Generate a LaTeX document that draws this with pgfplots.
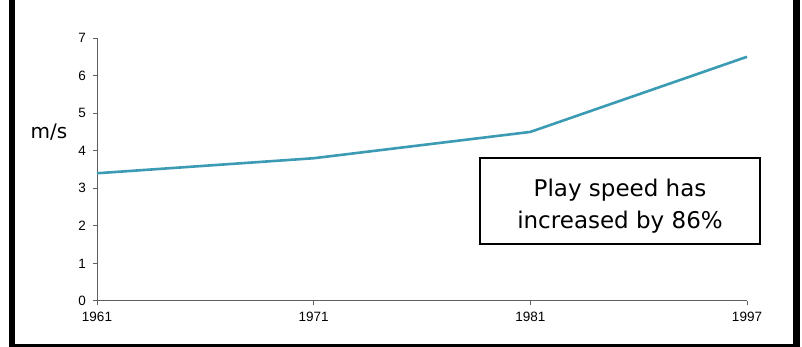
\documentclass[border=0pt]{standalone}
\usepackage{fontspec}
\setmainfont{Liberation Sans}
\newfontfamily\dejavu{DejaVu Sans}
\usepackage{pgfplots}
\pgfplotsset{compat=1.18}
\definecolor{lineteal}{RGB}{60,155,180}
\definecolor{axgray}{RGB}{95,95,95}
\begin{document}
\begin{tikzpicture}[x=1pt,y=1pt]
\path[use as bounding box] (0,0) rectangle (802,347);
\fill[white] (0,0) rectangle (802,347);
\begin{axis}[
  at={(97pt,46pt)}, anchor=south west,
  scale only axis, width=650pt, height=263pt,
  xmin=0, xmax=3, ymin=0, ymax=7,
  axis lines*=left,
  axis line style={axgray, line width=1pt},
  xtick={0,1,2,3}, xticklabels={1961,1971,1981,1997},
  ytick={0,1,2,3,4,5,6,7},
  tick align=outside, tick pos=left,
  major tick length=4.5pt,
  tick style={axgray, line width=1pt},
  tick label style={font=\fontsize{13.5}{15}\selectfont},
  xticklabel style={yshift=-3pt},
  yticklabel style={xshift=-3pt},
  /pgf/number format/assume math mode=true,
  clip=false,
]
\addplot[lineteal, line width=2.6pt, no markers] coordinates {(0,3.4) (1,3.8) (2,4.5) (3,6.5)};
\end{axis}
\node[font=\dejavu\fontsize{20}{24}\selectfont] at (49,215) {m/s};
\draw[black, line width=1.5pt] (480,103) rectangle (760,189);
\node[anchor=base, font=\dejavu\fontsize{23}{26}\selectfont, inner sep=0pt] at (620,150.3) {Play speed has};
\node[anchor=base, font=\dejavu\fontsize{23}{26}\selectfont, inner sep=0pt] at (620,118.7) {increased by 86\%};
\fill[black] (9,0) rectangle (15,347);
\fill[black] (793,0) rectangle (799.5,347);
\fill[black] (9,0) rectangle (799.5,2.5);
\end{tikzpicture}
\end{document}
